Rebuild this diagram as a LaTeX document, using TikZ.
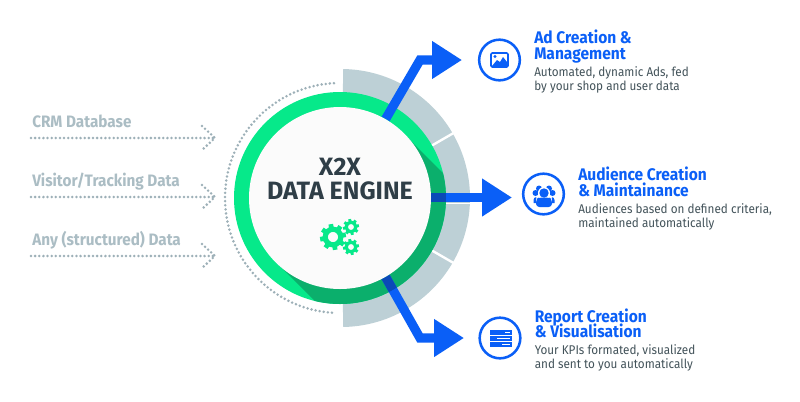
\documentclass[tikz,border=0pt]{standalone}
\usepackage{fontspec}
\setmainfont[FakeStretch=0.925]{Fira Sans}
\newfontfamily\enginefont{Fira Sans}
\usetikzlibrary{arrows.meta,calc}
\definecolor{brandblue}{HTML}{0A5FF7}
\definecolor{darkblue}{HTML}{0A49B8}
\definecolor{brandgreen}{HTML}{06E98A}
\definecolor{shadegreen}{HTML}{0BAF6C}
\definecolor{ringgray}{HTML}{BDD0D6}
\definecolor{dotgray}{HTML}{9DB0B8}
\definecolor{labelgray}{HTML}{ABBDC4}
\definecolor{inkdark}{HTML}{2F3E47}
\definecolor{inkdesc}{HTML}{43535A}
\definecolor{enginefill}{HTML}{FBFBFB}
\pgfdeclarelayer{rings}
\pgfdeclarelayer{links}
\pgfsetlayers{rings,links,main}
\newcommand{\enginegear}[3]{%
  \pgfmathsetmacro{\gearwa}{0.40*#3*0.75}%
  \pgfmathsetmacro{\gearwb}{0.36*#3*0.75}%
  \draw[brandgreen,line width=\gearwa pt] (#1,-#2) circle[radius=0.60*#3];
  \foreach \ga in {0,45,...,315}{
    \draw[brandgreen,line width=\gearwb pt] ($(#1,-#2)+(\ga+10:0.6*#3)$) -- ($(#1,-#2)+(\ga+10:#3)$);
  }%
}
\tikzset{
  x=0.75pt,y=0.75pt,
  blueflow/.style={draw=brandblue,line width=6.9pt,miter limit=10,-{Triangle[length=22.5pt,width=27pt,fill=brandblue]}},
  darkflow/.style={draw=darkblue,line width=6.9pt},
  dotline/.style={draw=dotgray,line width=2.1pt,line cap=round,dash pattern=on 0pt off 3.1pt},
  sourcelabel/.style={anchor=base west,inner sep=0pt,text=labelgray,font=\fontsize{12.4pt}{14pt}\selectfont\bfseries},
  outtitle/.style={anchor=base west,inner sep=0pt,text=brandblue,font=\fontsize{12.6pt}{14pt}\selectfont\bfseries},
  outdesc/.style={anchor=base west,inner sep=0pt,text=inkdesc,font=\fontsize{9.5pt}{11pt}\selectfont},
  enginetext/.style={anchor=base,inner sep=0pt,text=inkdark,font=\enginefont\fontsize{18.8pt}{21pt}\selectfont\bfseries},
  iconring/.style={circle,draw=brandblue,line width=1.9pt,fill=white,minimum size=30.5pt,inner sep=0pt},
}
\begin{document}
\begin{tikzpicture}
\useasboundingbox (0,0) rectangle (800,-401);
\coordinate (c) at (340,-198);
\coordinate (g) at (341,-198);
\begin{pgfonlayer}{rings}
  \fill[white] (0,0) rectangle (800,-401);
  \fill[ringgray] ([shift={(89:129)}]g) arc[start angle=89,end angle=-89,radius=129] -- ([shift={(-89:100)}]g) arc[start angle=-89,end angle=89,radius=100] -- cycle;
  \draw[white,line width=1.8pt] ([shift={(30:100)}]g) -- ([shift={(30:135)}]g);
  \draw[white,line width=1.8pt] ([shift={(-30:100)}]g) -- ([shift={(-30:135)}]g);
  \draw[white,line width=0.7pt] (446,-203.5) -- (472,-203.5);
  \fill[brandgreen] (c) circle[radius=106];
  \begin{scope}
    \clip (c) circle[radius=106];
    \fill[shadegreen] (404,-134) -- (474,-204) -- (474,-340) -- (354,-340) -- (276,-262) -- cycle;
  \end{scope}
  \draw[dotline] ([shift={(93:115)}]c) arc[start angle=93,end angle=267,radius=115];
\end{pgfonlayer}
\node[circle,fill=enginefill,minimum size=136.5pt,inner sep=0pt] (engine) at (c) {};
\node[enginetext] (titleA) at (340,-175) {X2X};
\node[enginetext] (titleB) at (340,-199) {DATA ENGINE};
\enginegear{333}{237}{13}
\enginegear{351}{227}{8}
\enginegear{351}{247}{8}
% outgoing connectors
\coordinate (topbend) at (420,-60);
\coordinate (toptip) at (462,-60);
\coordinate (midtip) at (512,-197.5);
\coordinate (lowbend) at (420,-338);
\coordinate (lowtip) at (464,-338);
\begin{pgfonlayer}{links}
  \draw[blueflow] (engine.60) -- (topbend) -- (toptip);
  \draw[blueflow] ($(engine.center |- midtip)+(85,0)$) -- (midtip);
  \draw[blueflow] (engine.-60) -- (lowbend) -- (lowtip);
  \begin{scope}
    \clip (c) circle[radius=106];
    \draw[darkflow] ($(engine.center |- midtip)+(85,0)$) -- (midtip);
    \draw[darkflow] (engine.-60) -- (lowbend);
  \end{scope}
\end{pgfonlayer}
% sources
\foreach \yy/\nm/\txt/\by in {138/a/{CRM Database}/127,197/b/{Visitor/Tracking Data}/186,256/c/{Any (structured) Data}/245}{
  \node[sourcelabel] (src\nm) at (32,-\by) {\txt};
  \coordinate (from\nm) at (31,-\yy);
  \coordinate (to\nm) at (215,-\yy);
  \draw[dotline] (from\nm) -- (to\nm);
  \draw[dotline] ($(to\nm)+(-13,12)$) -- (to\nm) -- ($(to\nm)+(-13,-12)$);
}
% outputs
\node[iconring] (iconA) at (499.5,-60) {};
\node[iconring] (iconB) at (543.5,-194) {};
\node[iconring] (iconC) at (500,-338) {};
\draw[brandblue,line width=1.2pt,rounded corners=1pt] (491,-53) rectangle (508,-67);
\fill[brandblue] (492,-66) -- (497,-60) -- (500,-62) -- (503,-57) -- (507,-62) -- (507,-66) -- cycle;
\fill[brandblue] (495,-56.5) circle[radius=1.6];
\foreach \hx/\hy in {535.5/193,539/188.5,549/188.5,552.5/193}{
  \fill[brandblue] (\hx,-\hy) circle[radius=3];
}
\fill[white] (544,-193) circle[radius=6];
\fill[white] (534,-197) rectangle (554,-209);
\fill[brandblue] (544,-193) circle[radius=4.7];
\fill[brandblue,rounded corners=2.5pt] (536,-207) -- (536,-199) -- (539,-197.5) -- (549,-197.5) -- (552,-199) -- (552,-207) -- cycle;
\fill[brandblue] (533.5,-200) arc[start angle=180,end angle=90,radius=3] -- (536,-197) -- (536,-203) -- (533.5,-203) -- cycle;
\fill[brandblue] (554.5,-200) arc[start angle=0,end angle=90,radius=3] -- (552,-197) -- (552,-203) -- (554.5,-203) -- cycle;
\foreach \ry/\sx in {330/505,336/497,342/502}{
  \fill[brandblue] (490,-\ry) rectangle (511.5,-\ry-4.6);
  \fill[white] (\sx,-\ry-1.5) rectangle (510,-\ry-3);
}
\node[outtitle] (tA1) at (534,-43) {Ad Creation \&};
\node[outtitle] (tA2) at (534,-59) {Management};
\node[outdesc] (dA1) at (534,-76) {Automated, dynamic Ads, fed};
\node[outdesc] (dA2) at (534,-90) {by your shop and user data};
\node[outtitle] (tB1) at (578,-180) {Audience Creation};
\node[outtitle] (tB2) at (578,-196) {\& Maintainance};
\node[outdesc] (dB1) at (578,-213) {Audiences based on defined criteria,};
\node[outdesc] (dB2) at (578,-227) {maintained automatically};
\node[outtitle] (tC1) at (534.5,-322) {Report Creation};
\node[outtitle] (tC2) at (534.5,-337) {\& Visualisation};
\node[outdesc] (dC1) at (534.5,-354) {Your KPIs formated, visualized};
\node[outdesc] (dC2) at (534.5,-368) {and sent to you automatically};
\end{tikzpicture}
\end{document}
